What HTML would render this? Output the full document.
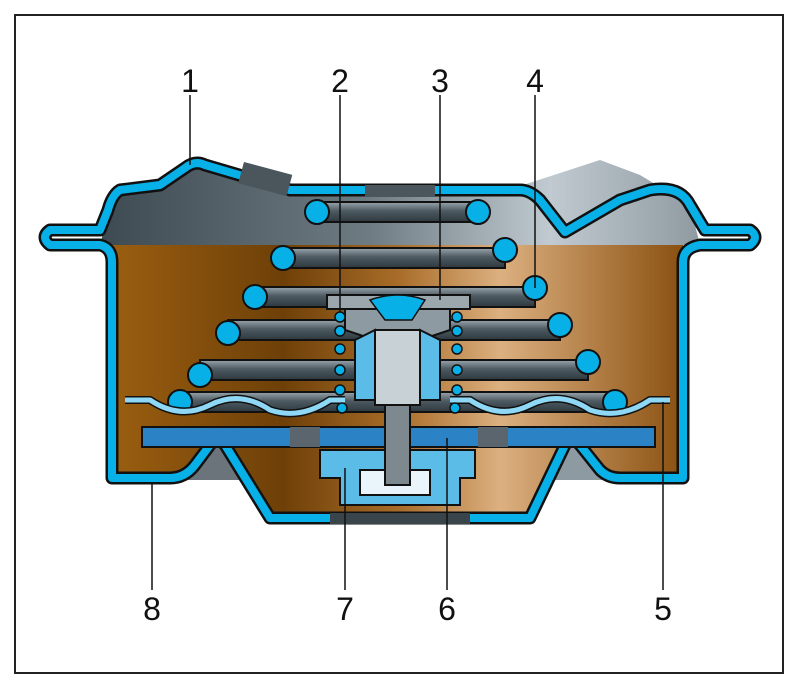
<!DOCTYPE html>
<html><head><meta charset="utf-8"><style>
html,body{margin:0;padding:0;background:#fff;}
svg{display:block}
text{font-family:"Liberation Sans",sans-serif;font-size:32px;fill:#111;}
</style></head><body>
<svg width="800" height="689" viewBox="0 0 800 689" xmlns="http://www.w3.org/2000/svg">
<defs>
<linearGradient id="br" x1="0" x2="1" y1="0" y2="0">
<stop offset="0" stop-color="#9a5e10"/><stop offset="0.3" stop-color="#6e4008"/>
<stop offset="0.5" stop-color="#a86c28"/><stop offset="0.68" stop-color="#dcb080"/>
<stop offset="1" stop-color="#8a5010"/></linearGradient>
<linearGradient id="gr" x1="0" x2="1" y1="0" y2="0">
<stop offset="0" stop-color="#3e4a52"/><stop offset="0.45" stop-color="#6f7b83"/>
<stop offset="0.75" stop-color="#c0cad0"/><stop offset="1" stop-color="#8f9aa1"/></linearGradient>
<linearGradient id="bar" x1="0" x2="0" y1="0" y2="1">
<stop offset="0" stop-color="#9aa6ad"/><stop offset="0.45" stop-color="#4d5a62"/>
<stop offset="1" stop-color="#2e383e"/></linearGradient>
</defs>
<rect x="15" y="15" width="768" height="658" fill="#fff" stroke="#222" stroke-width="2"/>
<!-- gray top -->
<path d="M100,245 L112,198 L155,188 L197,165 L290,190 L520,186 L600,160 L640,175 L690,205 L700,245 Z" fill="url(#gr)"/>
<!-- brown body -->
<path d="M112,245 L683,245 L683,480 L620,480 L573,440 L530,520 L270,520 L217,440 L175,480 L112,480 Z" fill="url(#br)"/>
<path d="M185,480 L217,442 L250,480 Z" fill="#6b747a"/>
<path d="M545,480 L573,442 L610,480 Z" fill="#8e9aa1"/>
<!-- housing outline -->
<g fill="none" stroke-linejoin="round" stroke-linecap="round">
<path d="M100,230 L50,230 Q40,237 50,245 L100,245 Q112,248 112,262 L112,478 L170,478 Q185,478 195,465 L210,445 Q217,435 225,445 L270,518 L530,518 L565,445 Q573,435 580,445 L600,470 Q608,478 620,478 L683,478 L683,262 Q683,248 700,245 L750,245 Q760,237 750,230 L705,230 L690,205 Q680,185 650,190 L620,200 L565,232 L540,200 Q530,190 520,190 L290,190 L205,165 Q195,160 185,168 L160,185 L120,190 Q112,195 108,210 Z" stroke="#111" stroke-width="13"/>
<path d="M100,230 L50,230 Q40,237 50,245 L100,245 Q112,248 112,262 L112,478 L170,478 Q185,478 195,465 L210,445 Q217,435 225,445 L270,518 L530,518 L565,445 Q573,435 580,445 L600,470 Q608,478 620,478 L683,478 L683,262 Q683,248 700,245 L750,245 Q760,237 750,230 L705,230 L690,205 Q680,185 650,190 L620,200 L565,232 L540,200 Q530,190 520,190 L290,190 L205,165 Q195,160 185,168 L160,185 L120,190 Q112,195 108,210 Z" stroke="#08b0e8" stroke-width="8"/>
</g>
<rect x="240" y="168" width="50" height="22" fill="#4a555c" transform="rotate(15 265 180)"/>
<rect x="365" y="185" width="70" height="12" fill="#4a555c"/>
<rect x="330" y="513" width="140" height="11" fill="#3a454b"/>
<!-- springs -->
<g stroke="#111" stroke-width="2">
<rect x="315" y="202" width="165" height="20" fill="url(#bar)"/>
<rect x="283" y="248" width="222" height="20" fill="url(#bar)"/>
<rect x="255" y="287" width="280" height="20" fill="url(#bar)"/>
<rect x="228" y="320" width="332" height="20" fill="url(#bar)"/>
<rect x="200" y="360" width="388" height="20" fill="url(#bar)"/>
<rect x="180" y="392" width="435" height="20" fill="url(#bar)"/>
<g fill="#08b0e8">
<circle cx="317" cy="212" r="12"/><circle cx="478" cy="212" r="12"/>
<circle cx="283" cy="258" r="12"/><circle cx="505" cy="250" r="12"/>
<circle cx="255" cy="297" r="12"/><circle cx="535" cy="288" r="12"/>
<circle cx="228" cy="333" r="12"/><circle cx="560" cy="325" r="12"/>
<circle cx="200" cy="375" r="12"/><circle cx="588" cy="362" r="12"/>
<circle cx="180" cy="402" r="12"/><circle cx="615" cy="402" r="12"/>
</g></g>
<!-- wavy diaphragm -->
<g fill="none" stroke-linejoin="round">
<path d="M125,400 L150,400 Q180,420 210,405 Q240,390 270,410 Q300,420 330,400 L345,400 M450,400 L470,400 Q500,420 530,405 Q560,390 590,410 Q620,420 650,400 L670,400" stroke="#111" stroke-width="8"/>
<path d="M125,400 L150,400 Q180,420 210,405 Q240,390 270,410 Q300,420 330,400 L345,400 M450,400 L470,400 Q500,420 530,405 Q560,390 590,410 Q620,420 650,400 L670,400" stroke="#8fd8f5" stroke-width="5"/>
</g>
<!-- blue plate -->
<rect x="142" y="427" width="513" height="20" fill="#2b82c4" stroke="#111" stroke-width="2"/>
<rect x="290" y="427" width="30" height="20" fill="#5a656d"/>
<rect x="478" y="427" width="30" height="20" fill="#5a656d"/>
<!-- lower cup -->
<path d="M320,450 L475,450 L475,478 L460,478 L460,505 L340,505 L340,478 L320,478 Z" fill="#5bbce8" stroke="#111" stroke-width="2"/>
<rect x="360" y="470" width="70" height="25" fill="#eaf5fb" stroke="#111" stroke-width="2"/>
<!-- center stem -->
<rect x="327" y="295" width="143" height="14" fill="#9ca7ad" stroke="#111" stroke-width="2"/>
<path d="M345,309 L450,309 L450,330 L420,340 L375,340 L345,330 Z" fill="#8e9aa2" stroke="#111" stroke-width="2"/>
<path d="M370,300 Q398,290 425,300 L412,320 L385,320 Z" fill="#08b0e8" stroke="#111" stroke-width="1.5"/>
<path d="M355,340 L375,330 L375,400 L355,400 Z M420,330 L440,340 L440,400 L420,400 Z" fill="#5bbce8" stroke="#111" stroke-width="2"/>
<rect x="375" y="330" width="45" height="75" fill="#c7d1d6" stroke="#111" stroke-width="2"/>
<rect x="385" y="405" width="25" height="80" fill="#7d888f" stroke="#111" stroke-width="2"/>
<!-- small springs -->
<g fill="#08b0e8" stroke="#111" stroke-width="1.5">
<circle cx="340" cy="317" r="5"/><circle cx="340" cy="331" r="5"/><circle cx="340" cy="349" r="5"/><circle cx="340" cy="370" r="5"/><circle cx="340" cy="390" r="5"/><circle cx="342" cy="408" r="5"/>
<circle cx="457" cy="317" r="5"/><circle cx="457" cy="331" r="5"/><circle cx="457" cy="349" r="5"/><circle cx="457" cy="370" r="5"/><circle cx="457" cy="390" r="5"/><circle cx="455" cy="408" r="5"/>
</g>
<!-- leader lines -->
<g stroke="#111" stroke-width="1.5">
<line x1="190" y1="95" x2="190" y2="165"/>
<line x1="340" y1="95" x2="340" y2="312"/>
<line x1="440" y1="95" x2="440" y2="300"/>
<line x1="535" y1="95" x2="535" y2="288"/>
<line x1="152" y1="590" x2="152" y2="482"/>
<line x1="345" y1="590" x2="345" y2="468"/>
<line x1="447" y1="590" x2="447" y2="438"/>
<line x1="663" y1="590" x2="663" y2="402"/>
</g>
<text x="190" y="92" text-anchor="middle">1</text>
<text x="340" y="92" text-anchor="middle">2</text>
<text x="440" y="92" text-anchor="middle">3</text>
<text x="535" y="92" text-anchor="middle">4</text>
<text x="152" y="620" text-anchor="middle">8</text>
<text x="345" y="620" text-anchor="middle">7</text>
<text x="447" y="620" text-anchor="middle">6</text>
<text x="663" y="620" text-anchor="middle">5</text>
</svg>
</body></html>
